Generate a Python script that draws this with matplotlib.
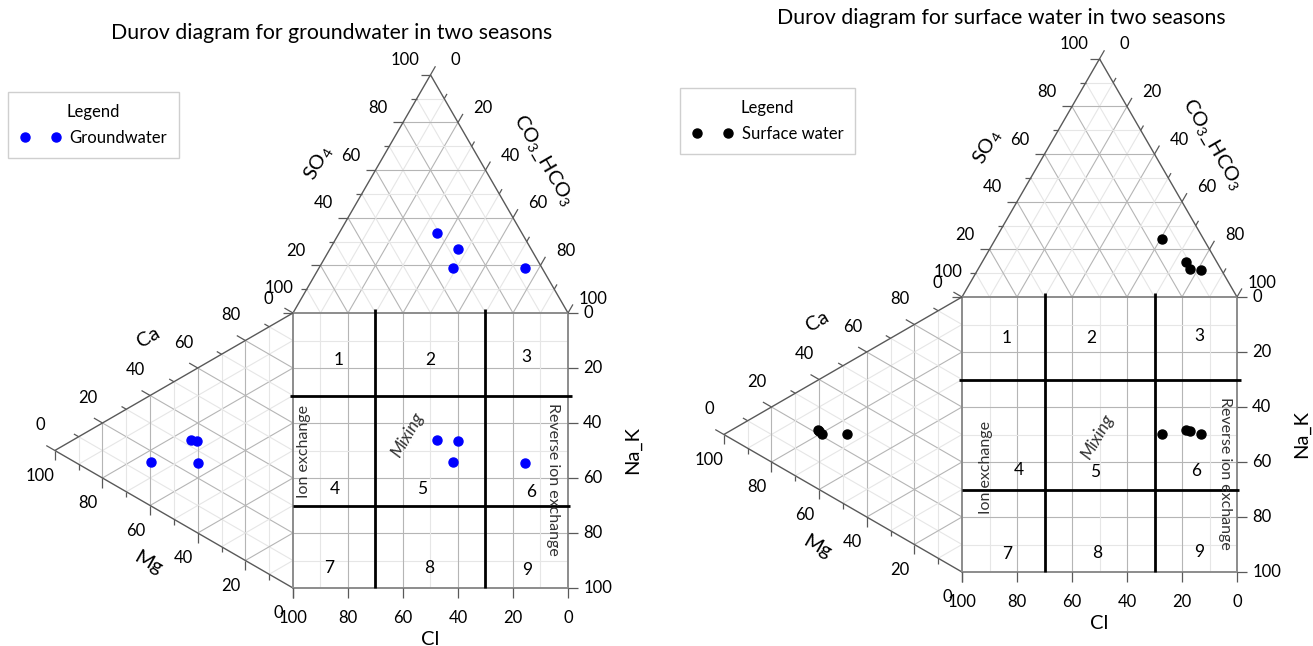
import numpy as np
import matplotlib
matplotlib.use("Agg")
import matplotlib.pyplot as plt
from matplotlib.lines import Line2D

plt.rcParams["font.family"] = ["Lato", "DejaVu Sans"]
plt.rcParams["mathtext.fontset"] = "custom"
plt.rcParams["mathtext.rm"] = "Lato"
plt.rcParams["mathtext.it"] = "Lato:italic"

# ---- sample compositions (percent of meq) ----
# groundwater: anions
gw_so4 = [33.7, 26.9, 18.9, 18.9]
gw_hco3 = [35.4, 46.5, 48.7, 74.9]
# groundwater: cations
gw_ca = [32.4, 33.2, 16.1, 25.4]
gw_mg = [42.7, 40.3, 59.6, 39.8]

# surface water: anions
sw_so4 = [24.4, 14.8, 11.7, 11.2]
sw_hco3 = [60.4, 73.9, 77.0, 81.2]
# surface water: cations
sw_ca = [20.7, 21.5, 21.3, 26.0]
sw_mg = [58.7, 60.3, 60.0, 48.2]

ticks = [0, 20, 40, 60, 80, 100]
zones = ["1", "2", "3", "4", "5", "6", "7", "8", "9"]

W, H_PX = 1313, 646
SCALE = 2.75          # pixels per percent unit
H = 50 * np.sqrt(3)   # height of the equilateral triangles (side 100)

GRID_MAJOR = "#b5b5b5"
GRID_MINOR = "#e6e6e6"
EDGE = "#595959"
BOX = "#8c8c8c"
FS_TICK = 12
FS_AXIS = 14.5
FS_ZONE = 12.5
FS_NOTE = 11.5


def tri(so4, hco3):
    """Anion triangle sitting on top of the square."""
    so4 = np.asarray(so4, float)
    hco3 = np.asarray(hco3, float)
    return hco3 + so4 / 2, 100 + so4 * H / 100


def cat(ca, mg):
    """Cation triangle attached to the left of the square."""
    ca = np.asarray(ca, float)
    mg = np.asarray(mg, float)
    return -mg * H / 100, ca + mg / 2


def seg(ax, p, q, **kw):
    ax.plot([p[0], q[0]], [p[1], q[1]], solid_capstyle="butt", **kw)


def durov(fig, ax_px, origin, so4, hco3, ca, mg, color, label, title,
          title_px, legend_px, zone_xy, txt_xy):
    x0, x1 = ax_px
    ox, oy = origin
    ax = fig.add_axes([x0 / W, 0, (x1 - x0) / W, 1])
    ax.set_xlim((x0 - ox) / SCALE, (x1 - ox) / SCALE)
    ax.set_ylim((oy - H_PX) / SCALE, oy / SCALE)
    ax.axis("off")

    # ---- grids ----
    for v in range(10, 100, 10):
        c = GRID_MAJOR if v % 20 == 0 else GRID_MINOR
        kw = dict(color=c, lw=0.8, zorder=1)
        seg(ax, tri(v, 0), tri(v, 100 - v), **kw)
        seg(ax, tri(0, v), tri(100 - v, v), **kw)
        seg(ax, tri(0, 100 - v), tri(100 - v, 0), **kw)
        seg(ax, cat(v, 0), cat(v, 100 - v), **kw)
        seg(ax, cat(0, v), cat(100 - v, v), **kw)
        seg(ax, cat(100 - v, 0), cat(0, 100 - v), **kw)
        seg(ax, (v, 0), (v, 100), **kw)
        seg(ax, (0, v), (100, v), **kw)

    # ---- outlines ----
    ax.plot([0, 50, 100], [100, 100 + H, 100], color=EDGE, lw=1.0, zorder=3)
    ax.plot([0, -H, 0], [100, 50, 0], color=EDGE, lw=1.0, zorder=3)
    ax.plot([0, 100, 100, 0, 0], [0, 0, 100, 100, 0], color=BOX, lw=1.4,
            zorder=3)

    # ---- ternary ticks and labels ----
    off = 10.5
    c30, s30 = np.cos(np.radians(30)), 0.5
    for v in range(0, 101, 10):
        L = 3.6 if v % 20 == 0 else 2.0
        kw = dict(color=EDGE, lw=0.9, zorder=3)
        # SO4 on the left edge of the anion triangle
        p = tri(v, 0)
        seg(ax, p, (p[0] - L, p[1]), **kw)
        if v % 20 == 0:
            ax.text(p[0] - off * c30, p[1] + off * s30, str(v),
                    fontsize=FS_TICK, ha="center", va="center")
        # CO3-HCO3 on the right edge of the anion triangle
        p = tri(100 - v, v)
        seg(ax, p, (p[0] + L * s30, p[1] + L * c30), **kw)
        if v % 20 == 0:
            ax.text(p[0] + off * c30, p[1] + off * s30, str(v),
                    fontsize=FS_TICK, ha="center", va="center")
        # Ca on the upper edge of the cation triangle
        p = cat(v, 100 - v)
        seg(ax, p, (p[0] - L * c30, p[1] + L * s30), **kw)
        if v % 20 == 0:
            ax.text(p[0] - off * s30, p[1] + off * c30, str(v),
                    fontsize=FS_TICK, ha="center", va="center")
        # Mg on the lower edge of the cation triangle
        p = cat(0, v)
        seg(ax, p, (p[0], p[1] - L), **kw)
        if v % 20 == 0:
            ax.text(p[0] - off * s30, p[1] - off * c30, str(v),
                    fontsize=FS_TICK, ha="center", va="center")

    # ---- square axes ----
    for t in ticks:
        x = 100 - t
        seg(ax, (x, 0), (x, -3.6), color=EDGE, lw=0.9, zorder=3)
        ax.text(x, -10.9, str(t), fontsize=FS_TICK, ha="center",
                va="center")
        y = 100 - t
        seg(ax, (100, y), (103.6, y), color=EDGE, lw=0.9, zorder=3)
        ax.text(105.5, y, str(t), fontsize=FS_TICK, ha="left", va="center")

    # ---- axis titles ----
    ax.text(9, 154.8, r"SO$_4$", fontsize=FS_AXIS, rotation=60,
            ha="center", va="center")
    ax.text(91.2, 155.5, r"CO$_3$_HCO$_3$", fontsize=FS_AXIS, rotation=-60,
            ha="center", va="center")
    ax.text(-52.7, 91.2, "Ca", fontsize=FS_AXIS, rotation=30,
            ha="center", va="center")
    ax.text(-52.7, 9.1, "Mg", fontsize=FS_AXIS, rotation=-30,
            ha="center", va="center")
    ax.text(49.8, -18.7, "Cl", fontsize=FS_AXIS, ha="center", va="center")
    ax.text(123.5, 50, "Na_K", fontsize=FS_AXIS, rotation=90,
            ha="center", va="center")

    # ---- zone boundaries ----
    zkw = dict(color="black", lw=2.0, zorder=4)
    for x in (30, 70):
        seg(ax, (x, 0), (x, 101.6), **zkw)
    seg(ax, (-1, 70), (101.6, 70), **zkw)
    seg(ax, (0, 30), (100.8, 30), **zkw)

    for z, (zx, zy) in zip(zones, zone_xy):
        ax.text(zx, zy, z, fontsize=FS_ZONE, ha="center", va="center",
                zorder=5)

    (ix, iy), (mx, my), (rx, ry) = txt_xy
    ax.text(ix, iy, "Ion exchange", fontsize=FS_NOTE, rotation=90,
            ha="center", va="center", color="#333333", zorder=5)
    ax.text(mx, my, "Mixing", fontsize=12.5, rotation=60, style="italic",
            ha="center", va="center", color="#333333", zorder=5)
    ax.text(rx, ry, "Reverse ion exchange", fontsize=FS_NOTE, rotation=-90,
            ha="center", va="center", color="#333333", zorder=5)

    # ---- samples ----
    mk = dict(ls="none", marker="o", ms=6.5, color=color, zorder=6)
    ax.plot(*tri(so4, hco3), **mk)
    ax.plot(*cat(ca, mg), **mk)
    sx, _ = tri(so4, hco3)
    _, sy = cat(ca, mg)
    ax.plot(sx, sy, **mk)

    fig.text(title_px[0] / W, 1 - title_px[1] / H_PX, title, fontsize=15.3,
             ha="center", va="center")

    handle = Line2D([], [], ls="none", marker="o", ms=6.5, color=color)
    leg = ax.legend([handle], [label], title="Legend", numpoints=2,
                    loc="upper left",
                    bbox_to_anchor=(legend_px[0] / W, 1 - legend_px[1] / H_PX),
                    bbox_transform=fig.transFigure, frameon=True,
                    fancybox=False, edgecolor="#cfcfcf", framealpha=1,
                    fontsize=12, title_fontsize=12, handlelength=2.45,
                    handletextpad=0.55, borderpad=0.7, labelspacing=0.62,
                    borderaxespad=0)
    leg.get_frame().set_linewidth(1.0)
    return ax


fig = plt.figure(figsize=(W / 100, H_PX / 100), dpi=100)
fig.patch.set_facecolor("white")

durov(fig, (0, 656), (293, 588), gw_so4, gw_hco3, gw_ca, gw_mg, "#0000ff",
      "Groundwater", "Durov diagram for groundwater in two seasons",
      (332, 33), (8, 92),
      [(16.7, 83.0), (50.0, 83.0), (85.0, 84.0),
       (15.3, 36.0), (47.0, 36.0), (86.5, 35.0),
       (13.0, 7.3), (49.5, 7.3), (85.0, 6.5)],
      [(4.0, 49.8), (41.5, 55.6), (94.5, 39.5)])

durov(fig, (656, 1313), (962, 572), sw_so4, sw_hco3, sw_ca, sw_mg, "black",
      "Surface water", "Durov diagram for surface water in two seasons",
      (1001, 18), (680, 88),
      [(16.4, 85.1), (46.9, 85.1), (86.4, 85.8),
       (20.6, 37.1), (48.4, 36.5), (85.3, 36.8),
       (16.4, 6.5), (49.1, 7.0), (86.4, 7.3)],
      [(8.7, 38.0), (49.1, 49.2), (95.6, 35.8)])

fig.savefig("out.png", dpi=100, facecolor="white")
